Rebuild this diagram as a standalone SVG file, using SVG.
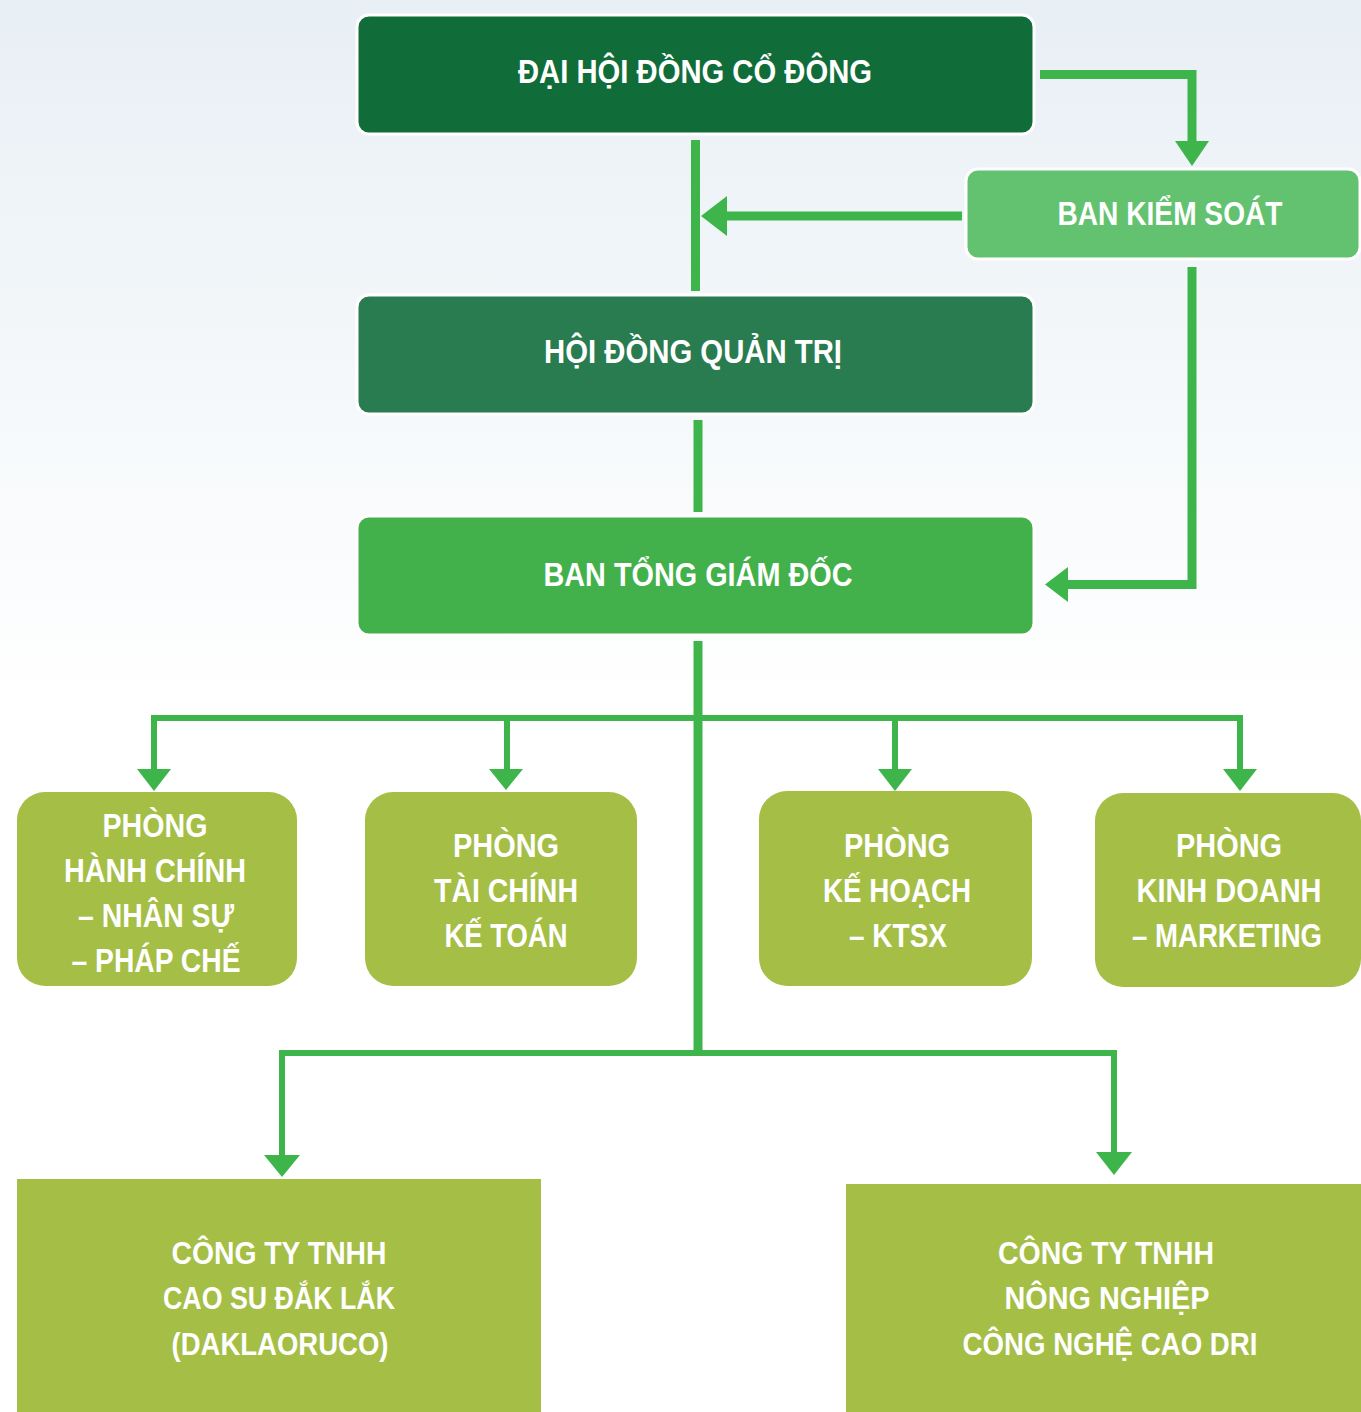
<svg xmlns="http://www.w3.org/2000/svg" width="1361" height="1412" viewBox="0 0 1361 1412">
<defs>
<linearGradient id="sky" x1="0" y1="0" x2="0" y2="1">
<stop offset="0" stop-color="#e8eff5"/>
<stop offset="0.3" stop-color="#f6f9fb"/>
<stop offset="0.5" stop-color="#ffffff"/>
<stop offset="1" stop-color="#ffffff"/>
</linearGradient>
</defs>
<style>
.t{font-family:"Liberation Sans",Arial,sans-serif;font-weight:bold;fill:#ffffff;text-anchor:middle;font-size:34px}
.tb{font-size:31px}
.ln{stroke:#3db54a;fill:none;stroke-linejoin:miter;stroke-linecap:butt}
.w9{stroke-width:9}
.w6{stroke-width:6}
.ah{fill:#3db54a}
.dept{fill:#a5be46}
.top{stroke:#ffffff;stroke-width:3}
</style>
<rect x="0" y="0" width="1361" height="1412" fill="url(#sky)"/>

<g id="connectors">
<polyline class="ln w9" points="1040,74.5 1192,74.5 1192,142"/>
<polygon class="ah" points="1175,141 1209,141 1192,166"/>
<line class="ln w9" x1="695.5" y1="140" x2="695.5" y2="291"/>
<line class="ln w9" x1="962" y1="216" x2="725" y2="216"/>
<polygon class="ah" points="727,196 727,236 701,216"/>
<line class="ln w9" x1="698" y1="420" x2="698" y2="512"/>
<polyline class="ln w9" points="1192,267 1192,584.5 1066,584.5"/>
<polygon class="ah" points="1068,567 1068,602 1045,584.5"/>
<line class="ln w9" x1="698" y1="641" x2="698" y2="1054"/>
<polyline class="ln w6" points="154,772 154,718 1240,718 1240,772"/>
<line class="ln w6" x1="507" y1="718" x2="507" y2="772"/>
<line class="ln w6" x1="895" y1="718" x2="895" y2="772"/>
<polygon class="ah" points="137,769 171,769 154,791"/>
<polygon class="ah" points="489,769 523,769 506,790"/>
<polygon class="ah" points="878,769 912,769 895,791"/>
<polygon class="ah" points="1223,769 1257,769 1240,791"/>
<polyline class="ln w6" points="282,1157 282,1053 1114,1053 1114,1154"/>
<polygon class="ah" points="264,1155 300,1155 282,1177"/>
<polygon class="ah" points="1096,1152 1132,1152 1114,1175"/>
</g>

<g id="dai-hoi-dong-co-dong">
<rect class="top" x="357" y="15" width="677" height="119" rx="12" fill="#106d3a"/>
<text class="t" x="695" y="83" textLength="354" lengthAdjust="spacingAndGlyphs">ĐẠI HỘI ĐỒNG CỔ ĐÔNG</text>
</g>

<g id="ban-kiem-soat">
<rect class="top" x="966" y="169" width="394" height="90" rx="12" fill="#62c26f"/>
<text class="t" x="1170" y="225" textLength="225" lengthAdjust="spacingAndGlyphs">BAN KIỂM SOÁT</text>
</g>

<g id="hoi-dong-quan-tri">
<rect class="top" x="357" y="295" width="677" height="119" rx="12" fill="#297b50"/>
<text class="t" x="693" y="363" textLength="298" lengthAdjust="spacingAndGlyphs">HỘI ĐỒNG QUẢN TRỊ</text>
</g>

<g id="ban-tong-giam-doc">
<rect class="top" x="357" y="516" width="677" height="119" rx="12" fill="#42b04b"/>
<text class="t" x="698" y="586" textLength="309" lengthAdjust="spacingAndGlyphs">BAN TỔNG GIÁM ĐỐC</text>
</g>

<g id="phong-hanh-chinh">
<rect class="dept" x="17" y="792" width="280" height="194" rx="28"/>
<text class="t" x="155" y="837" textLength="105" lengthAdjust="spacingAndGlyphs">PHÒNG</text>
<text class="t" x="155" y="882" textLength="182" lengthAdjust="spacingAndGlyphs">HÀNH CHÍNH</text>
<text class="t" x="156" y="927" textLength="156" lengthAdjust="spacingAndGlyphs">– NHÂN SỰ</text>
<text class="t" x="156" y="972" textLength="169" lengthAdjust="spacingAndGlyphs">– PHÁP CHẾ</text>
</g>

<g id="phong-tai-chinh">
<rect class="dept" x="365" y="792" width="272" height="194" rx="28"/>
<text class="t" x="506" y="857" textLength="106" lengthAdjust="spacingAndGlyphs">PHÒNG</text>
<text class="t" x="506" y="902" textLength="144" lengthAdjust="spacingAndGlyphs">TÀI CHÍNH</text>
<text class="t" x="506" y="947" textLength="123" lengthAdjust="spacingAndGlyphs">KẾ TOÁN</text>
</g>

<g id="phong-ke-hoach">
<rect class="dept" x="759" y="791" width="273" height="195" rx="28"/>
<text class="t" x="897" y="857" textLength="106" lengthAdjust="spacingAndGlyphs">PHÒNG</text>
<text class="t" x="897" y="902" textLength="148" lengthAdjust="spacingAndGlyphs">KẾ HOẠCH</text>
<text class="t" x="898" y="947" textLength="98" lengthAdjust="spacingAndGlyphs">– KTSX</text>
</g>

<g id="phong-kinh-doanh">
<rect class="dept" x="1095" y="793" width="266" height="194" rx="28"/>
<text class="t" x="1229" y="857" textLength="106" lengthAdjust="spacingAndGlyphs">PHÒNG</text>
<text class="t" x="1229" y="902" textLength="185" lengthAdjust="spacingAndGlyphs">KINH DOANH</text>
<text class="t" x="1227" y="947" textLength="190" lengthAdjust="spacingAndGlyphs">– MARKETING</text>
</g>

<g id="cong-ty-daklaoruco">
<rect class="dept" x="17" y="1179" width="524" height="233"/>
<text class="t tb" x="279" y="1264" textLength="215" lengthAdjust="spacingAndGlyphs">CÔNG TY TNHH</text>
<text class="t tb" x="279" y="1309" textLength="232" lengthAdjust="spacingAndGlyphs">CAO SU ĐẮK LẮK</text>
<text class="t tb" x="280" y="1355" textLength="217" lengthAdjust="spacingAndGlyphs">(DAKLAORUCO)</text>
</g>

<g id="cong-ty-dri">
<rect class="dept" x="846" y="1184" width="515" height="228"/>
<text class="t tb" x="1106" y="1264" textLength="216" lengthAdjust="spacingAndGlyphs">CÔNG TY TNHH</text>
<text class="t tb" x="1107" y="1309" textLength="205" lengthAdjust="spacingAndGlyphs">NÔNG NGHIỆP</text>
<text class="t tb" x="1110" y="1355" textLength="295" lengthAdjust="spacingAndGlyphs">CÔNG NGHỆ CAO DRI</text>
</g>
</svg>
